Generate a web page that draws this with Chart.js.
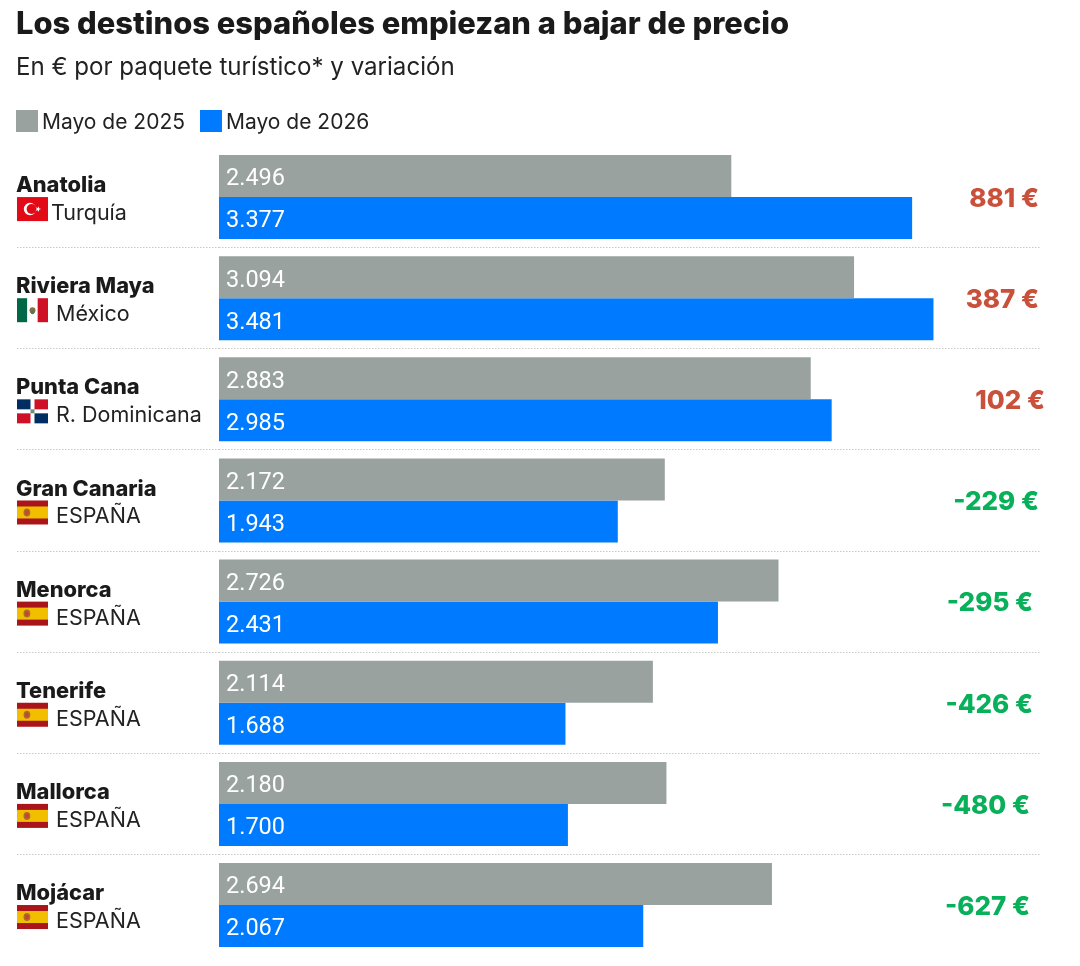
<!DOCTYPE html>
<html lang="es"><head><meta charset="utf-8">
<style>html,body{margin:0;padding:0;background:#fff}canvas{display:block}</style>
<script src="https://cdn.jsdelivr.net/npm/chart.js@4"></script></head>
<body><canvas id="c" width="1080" height="966"></canvas>
<script>
const destinos = ['Anatolia','Riviera Maya','Punta Cana','Gran Canaria','Menorca','Tenerife','Mallorca','Mojácar'];
const paises = ['Turquía','México','R. Dominicana','ESPAÑA','ESPAÑA','ESPAÑA','ESPAÑA','ESPAÑA'];
const banderas = ['tr','mx','do','es','es','es','es','es'];
const mayo2025 = [2496,3094,2883,2172,2726,2114,2180,2694];
const mayo2026 = [3377,3481,2985,1943,2431,1688,1700,2067];
const variacion = [881,387,102,-229,-295,-426,-480,-627];
const deltaRight = [1039,1039,1045,1039,1033,1033,1030,1030];
const paisX = [51,56,56,56,56,56,56,56];

const BOLD = 'Inter', REG = 'Inter', NUM = 'Roboto';
const fmt = v => String(v).replace(/(\d)(\d{3})$/, '$1.$2');

function flag(ctx, code, x, y, w, h){
  const r=(c,a,b,d,e)=>{ctx.fillStyle=c;ctx.fillRect(x+a,y+b,d,e);};
  if(code==='tr'){
    r('#e30a17',0,0,w,h);
    const cx=x+w*0.42, cy=y+h/2;
    ctx.fillStyle='#fff';ctx.beginPath();ctx.arc(cx,cy,6.2,0,7);ctx.fill();
    ctx.fillStyle='#e30a17';ctx.beginPath();ctx.arc(cx+1.6,cy,5,0,7);ctx.fill();
    ctx.fillStyle='#fff';ctx.beginPath();
    for(let i=0;i<10;i++){const a=i*Math.PI/5,q=i%2?1.2:3;ctx.lineTo(cx+8+q*Math.cos(a),cy+q*Math.sin(a));}
    ctx.fill();
  } else if(code==='mx'){
    r('#006847',0,0,w/3,h);r('#fff',w/3,0,w/3,h);r('#ce1126',2*w/3,0,w/3,h);
    ctx.fillStyle='#8c6b45';ctx.beginPath();ctx.arc(x+w/2,y+h/2,3,0,7);ctx.fill();
    ctx.fillStyle='#4d7a5a';ctx.beginPath();ctx.arc(x+w/2,y+h/2+2,2,0,7);ctx.fill();
  } else if(code==='do'){
    const cw=(w-4)/2, ch=(h-4)/2;
    r('#fff',0,0,w,h);
    r('#002d62',0,0,cw,ch);r('#ce1126',cw+4,0,cw,ch);
    r('#ce1126',0,ch+4,cw,ch);r('#002d62',cw+4,ch+4,cw,ch);
    ctx.fillStyle='#6f8f7a';ctx.fillRect(x+w/2-2,y+h/2-2,4,4);
  } else {
    r('#aa151b',0,0,w,h);r('#f1bf00',0,h/4,w,h/2);
    ctx.fillStyle='#ad6b2a';ctx.beginPath();ctx.ellipse(x+w*0.32,y+h/2,3.4,4,0,0,7);ctx.fill();
    ctx.fillStyle='#c8403a';ctx.fillRect(x+w*0.32-1.5,y+h/2-2,3,4);
  }
}

const overlay = {
  id:'overlay',
  afterDatasetsDraw(chart){
    const {ctx,scales:{y}}=chart;
    ctx.save();
    ctx.textBaseline='middle';ctx.textAlign='left';
    ctx.font='400 21px '+REG;
    let lx=16;
    chart.data.datasets.forEach(ds=>{
      ctx.fillStyle=ds.backgroundColor;ctx.fillRect(lx,110,22,22);
      ctx.fillStyle='#222';ctx.fillText(ds.label,lx+26,123);
      lx+=26+ctx.measureText(ds.label).width+15;
    });
    ctx.font='400 23.5px '+NUM;ctx.fillStyle='#fff';
    chart.data.datasets.forEach((ds,di)=>{
      chart.getDatasetMeta(di).data.forEach((bar,i)=>{
        ctx.fillText(fmt(ds.data[i]),chart.chartArea.left+7,bar.y+3.5);
      });
    });
    destinos.forEach((d,i)=>{
      const yc=y.getPixelForTick(i);
      flag(ctx,banderas[i],17,yc,31,24);
      ctx.font='400 21.5px '+REG;ctx.fillStyle='#222';ctx.textAlign='left';
      ctx.fillText(paises[i],paisX[i],yc+16.5);
      ctx.font='800 26px '+BOLD;ctx.textAlign='right';
      ctx.fillStyle=variacion[i]>0?'#c9503a':'#08b05a';
      ctx.fillText(variacion[i]+' €',deltaRight[i],yc+2);
      ctx.textAlign='left';
    });
    ctx.restore();
  }
};

new Chart(document.getElementById('c'),{
  type:'bar',
  data:{labels:destinos,datasets:[
    {label:'Mayo de 2025',data:mayo2025,backgroundColor:'#9aa2a0',categoryPercentage:0.8306,barPercentage:1},
    {label:'Mayo de 2026',data:mayo2026,backgroundColor:'#007bff',categoryPercentage:0.8306,barPercentage:1}
  ]},
  plugins:[overlay],
  options:{
    indexAxis:'y',responsive:false,animation:false,devicePixelRatio:1,
    layout:{autoPadding:false,padding:{left:16,right:40,top:0,bottom:10.4}},
    scales:{
      x:{display:false,min:0,max:4000,ticks:{display:false},grid:{display:false}},
      y:{
        afterFit(s){s.width=203;s.paddingTop=0;s.paddingBottom=0;},
        border:{display:false,dash:[1.5,1.5]},
        grid:{
          offset:true,tickLength:202,
          color:c=>(c.index>0&&c.index<destinos.length)?'#c9c9c9':'rgba(0,0,0,0)',
          tickColor:c=>(c.index>0&&c.index<destinos.length)?'#c9c9c9':'rgba(0,0,0,0)',
          tickBorderDash:[1.5,1.5],lineWidth:1
        },
        ticks:{
          autoSkip:false,crossAlign:'far',color:'#1a1a1a',padding:0,
          font:{family:BOLD,weight:'800',size:21.8,lineHeight:1.05},
          callback(v){return [this.getLabelForValue(v),' '];}
        }
      }
    },
    plugins:{
      legend:{display:false},
      tooltip:{enabled:false},
      title:{display:true,text:'Los destinos españoles empiezan a bajar de precio',align:'start',color:'#1a1a1a',
        font:{family:BOLD,weight:'800',size:30.9,lineHeight:1.2},padding:{top:6.4,bottom:5}},
      subtitle:{display:true,text:'En € por paquete turístico* y variación',align:'start',color:'#222',
        font:{family:REG,weight:'400',size:24.1,lineHeight:1.2},padding:{top:5,bottom:64.1}}
    }
  }
});
</script></body></html>
